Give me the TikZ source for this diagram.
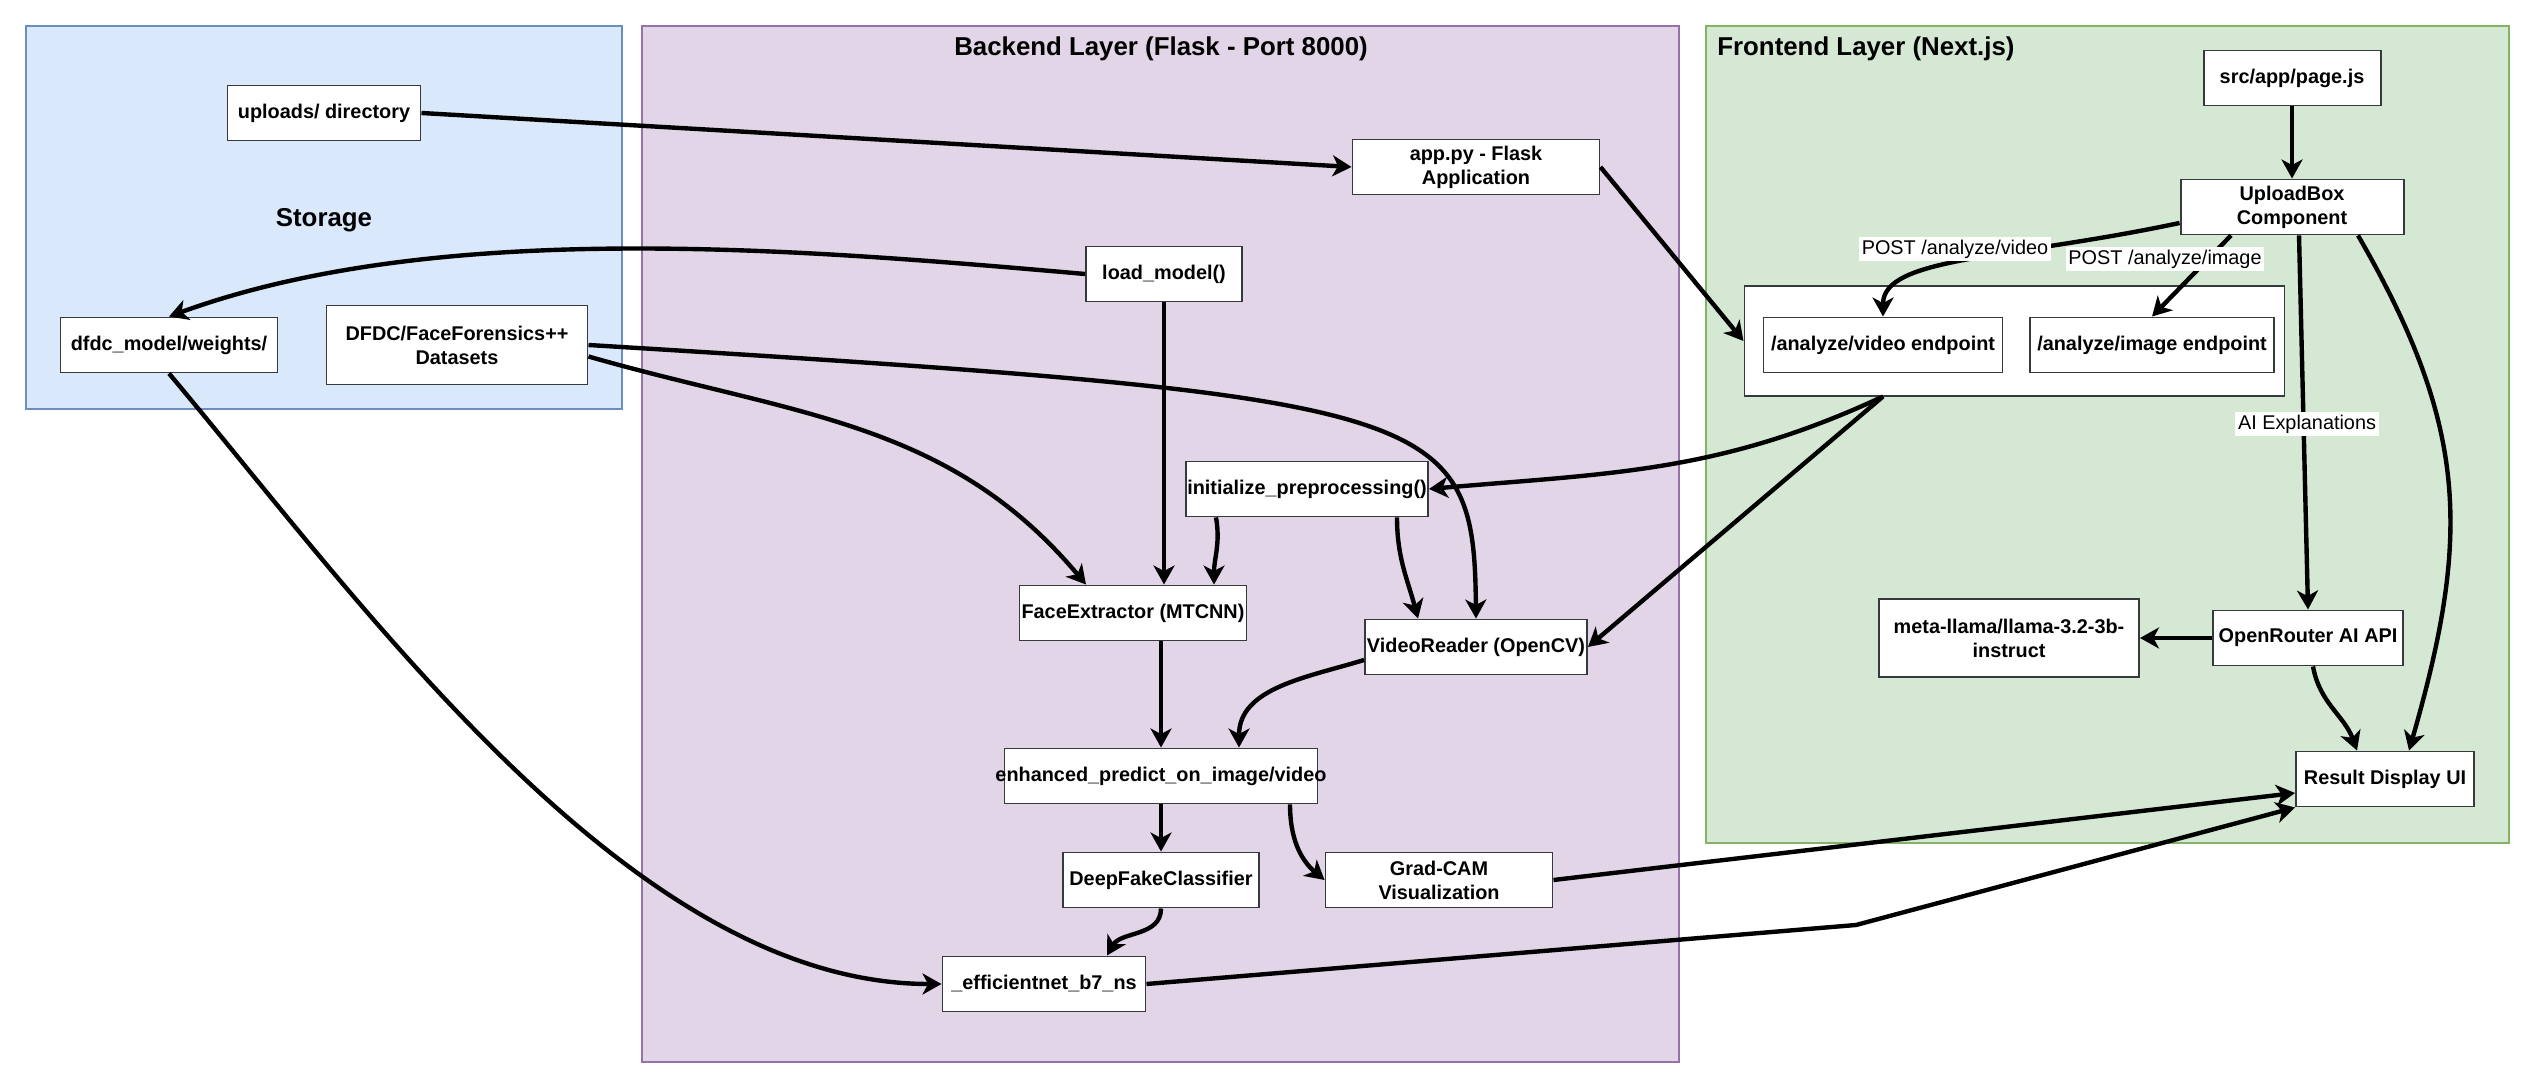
\documentclass[tikz,border=0pt]{standalone}
\usepackage{fontspec}
\setmainfont{Liberation Sans}
\usetikzlibrary{arrows.meta, positioning}
\definecolor{storFill}{HTML}{DAE8FC}
\definecolor{storLine}{HTML}{6C8EBF}
\definecolor{backFill}{HTML}{E1D5E7}
\definecolor{backLine}{HTML}{9673A6}
\definecolor{frontFill}{HTML}{D5E8D4}
\definecolor{frontLine}{HTML}{82B366}
\definecolor{boxLine}{HTML}{36393D}
\tikzset{
  archfig/.style={
    every node/.append style={font=\fontsize{11.3}{13.7}\selectfont\bfseries},
    >={Stealth[length=3.8mm, width=4.2mm, inset=1.1mm]},
  },
  layer/.style={line width=0.9pt, inner sep=0pt},
  storlayer/.style={layer, draw=storLine, fill=storFill},
  backlayer/.style={layer, draw=backLine, fill=backFill},
  frontlayer/.style={layer, draw=frontLine, fill=frontFill},
  layertitle/.style={font=\fontsize{14.7}{17}\selectfont\bfseries, inner sep=0pt},
  compbox/.style={
    draw=boxLine, line width=1.1pt, fill=white, align=center,
    inner xsep=0pt, inner ysep=1pt, minimum height=11mm,
  },
  % Gruppenrahmen der Endpunkte: schmaler Rand, weiss gefuellt.
  grpbox/.style={draw=boxLine, line width=0.6pt, fill=white, inner sep=0pt},
  flow/.style={draw=black, line width=2.5pt, ->},
  edgelabel/.style={font=\fontsize{11.3}{13.7}\selectfont, fill=white, inner sep=1.5pt},
}
\begin{document}
\begin{tikzpicture}[archfig]
  \useasboundingbox (0,0) rectangle (50.70,21.74);
  \node[storlayer, minimum width=11.92cm, minimum height=7.66cm] (Storage) at (6.48,17.39) {};
  \node[backlayer, minimum width=20.74cm, minimum height=20.72cm] (Backend) at (23.21,10.86) {};
  \node[frontlayer, minimum width=16.06cm, minimum height=16.34cm] (Frontend) at (42.15,13.05) {};
  \node[layertitle] (StorageTitle) at (6.48,17.34) {Storage};
  \node[layertitle] (BackendTitle) at (23.22,20.76) {Backend Layer (Flask - Port 8000)};
  \node[layertitle, anchor=west] (FrontendTitle) at (34.34,20.76) {Frontend Layer (Next.js)};
  \node[compbox, minimum width=3.86cm] (Uploads) at (6.48,19.48) {uploads/ directory};
  \node[compbox, minimum width=4.34cm] (Weights) at (3.38,14.84) {dfdc\_model/weights/};
  \node[compbox, minimum width=5.22cm, minimum height=15.8mm] (Datasets) at (9.14,14.84) {DFDC/FaceForensics++\\Datasets};
  \node[compbox, minimum width=4.94cm] (FlaskApp) at (29.52,18.40) {app.py - Flask\\Application};
  \node[compbox, minimum width=3.12cm] (LoadModel) at (23.28,16.26) {load\_model()};
  \node[compbox, minimum width=4.84cm] (InitPrep) at (26.14,11.96) {initialize\_preprocessing()};
  \node[compbox, minimum width=4.54cm] (FaceExtractor) at (22.66,9.48) {FaceExtractor (MTCNN)};
  \node[compbox, minimum width=4.44cm] (VideoReader) at (29.52,8.80) {VideoReader (OpenCV)};
  \node[compbox, minimum width=6.26cm] (Predict) at (23.22,6.22) {\makebox[0pt]{enhanced\_predict\_on\_image/video}};
  \node[compbox, minimum width=3.92cm] (Classifier) at (23.22,4.14) {DeepFakeClassifier};
  \node[compbox, minimum width=4.54cm] (GradCAM) at (28.78,4.14) {Grad-CAM\\Visualization};
  \node[compbox, minimum width=4.06cm] (EffNet) at (20.88,2.06) {\_efficientnet\_b7\_ns};
  \node[compbox, minimum width=3.54cm] (PageJS) at (45.84,20.18) {src/app/page.js};
  \node[compbox, minimum width=4.46cm] (UploadBox) at (45.84,17.60) {UploadBox\\Component};
  \node[grpbox, minimum width=10.80cm, minimum height=2.20cm] (Endpoints) at (40.28,14.92) {};
  \node[compbox, minimum width=4.78cm] (VideoEP) at (37.66,14.84) {/analyze/video endpoint};
  \node[compbox, minimum width=4.88cm] (ImageEP) at (43.04,14.84) {/analyze/image endpoint};
  \node[compbox, minimum width=5.20cm, minimum height=15.6mm] (Llama) at (40.18,8.98) {meta-llama/llama-3.2-3b-\\instruct};
  \node[compbox, minimum width=3.80cm] (OpenRouter) at (46.16,8.98) {OpenRouter AI API};
  \node[compbox, minimum width=3.56cm] (ResultUI) at (47.70,6.16) {Result Display UI};
  \coordinate (EffBend) at (37.12,3.24);
  \draw[flow] (Uploads.east) -- (FlaskApp.west);
  \draw[flow] (FlaskApp.east) -- (Endpoints.west);
  \draw[flow] (LoadModel.west) to[out=175, in=20, looseness=0.8] (Weights.north);
  \draw[flow] (Datasets.-5) to[out=-16, in=130] ([xshift=-0.94cm]FaceExtractor.north);
  \draw[flow] (Datasets.east) .. controls (28.80,13.80) and (29.48,13.60) .. (VideoReader.north);
  \draw[flow] (LoadModel.south) -- (LoadModel.south |- FaceExtractor.north);
  \draw[flow] ([xshift=-1.82cm]InitPrep.south) to[out=-80, in=90] ([xshift=1.62cm]FaceExtractor.north);
  \draw[flow] ([xshift=1.80cm]InitPrep.south) to[out=-90, in=105] ([xshift=-1.16cm]VideoReader.north);
  \draw[flow] (VideoEP.south |- Endpoints.south) to[out=-155, in=5] (InitPrep.east);
  \draw[flow] (VideoEP.south |- Endpoints.south) -- (VideoReader.east);
  \draw[flow] ([yshift=-0.26cm]VideoReader.west) to[out=-163, in=90] ([xshift=1.56cm]Predict.north);
  \draw[flow] ([xshift=0.56cm]FaceExtractor.south) -- (Predict.north);
  \draw[flow] (Predict) -- (Classifier);
  \draw[flow] ([xshift=2.58cm]Predict.south) to[out=-90, in=140] (GradCAM.west);
  \draw[flow] (Classifier.south) to[out=-90, in=60] ([xshift=1.26cm]EffNet.north);
  \draw[flow] (Weights.south) to[out=-50, in=180, looseness=0.8] (EffNet.west);
  \draw[flow] (EffNet.east) -- (EffBend) -- (ResultUI.south west);
  \draw[flow] (GradCAM.east) -- ([yshift=-0.28cm]ResultUI.west);
  \draw[flow] (PageJS) -- (UploadBox);
  \draw[flow] ([yshift=-0.32cm]UploadBox.west) to[out=-168, in=90, out distance=3.5cm, in distance=1.2cm] (VideoEP.north);
  \draw[flow] ([xshift=-1.22cm]UploadBox.south) -- (ImageEP.north);
  \draw[flow] ([xshift=0.14cm]UploadBox.south) -- (OpenRouter.north);
  \draw[flow] ([xshift=1.32cm]UploadBox.south) to[out=-60, in=74, looseness=1.1] ([xshift=0.48cm]ResultUI.north);
  \draw[flow] (OpenRouter.west) -- (Llama.east);
  \draw[flow] ([xshift=0.1cm]OpenRouter.south) to[out=-80, in=110] ([xshift=-0.56cm]ResultUI.north);
  \node[edgelabel] (LblVideo) at (39.10,16.76) {POST /analyze/video};
  \node[edgelabel] (LblImage) at (43.30,16.56) {POST /analyze/image};
  \node[edgelabel] (LblExplain) at (46.14,13.26) {AI Explanations};
\end{tikzpicture}
\end{document}
